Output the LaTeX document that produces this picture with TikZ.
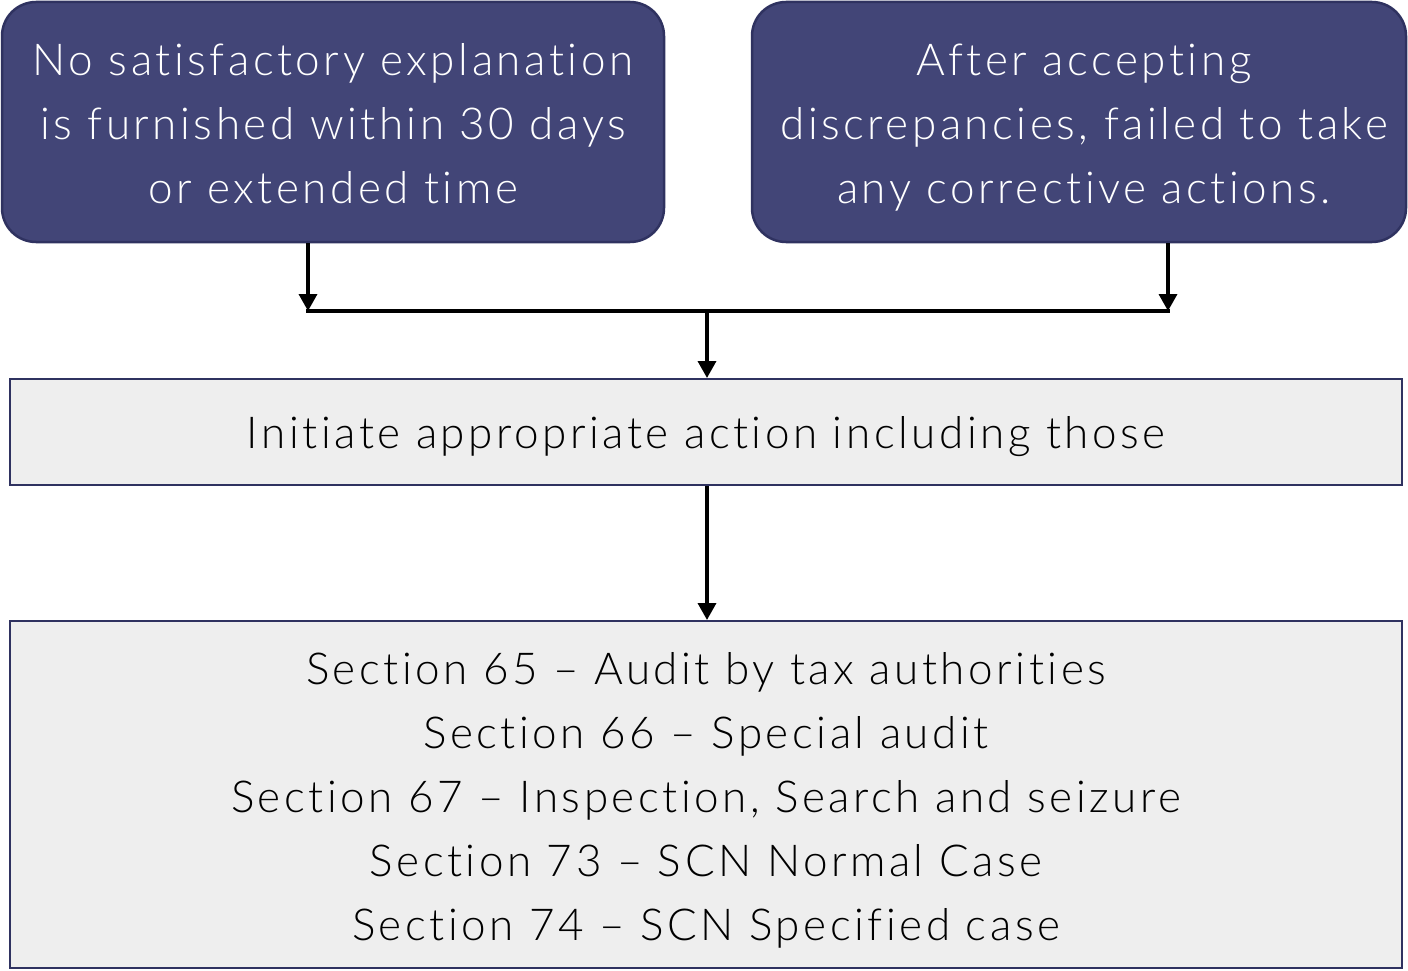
\documentclass[tikz,border=0pt]{standalone}
\usepackage{fontspec}
\setmainfont{Lato}[UprightFont={* Light},LetterSpace=8,Ligatures={NoCommon}]
\usetikzlibrary{arrows.meta}
\definecolor{boxblue}{HTML}{424577}
\definecolor{boxedge}{HTML}{2F3260}
\definecolor{boxgray}{HTML}{EEEEEE}
\begin{document}
\begin{tikzpicture}[x=1pt,y=-1pt,
  topbox/.style={draw=boxedge,line width=2.5pt,fill=boxblue,rounded corners=34pt,text=white},
  graybox/.style={draw=boxedge,line width=2.5pt,fill=boxgray,text=black},
  txt/.style={align=center,font=\fontsize{44}{64}\selectfont,inner sep=0pt},
  conn/.style={line width=3.5pt,black},
  arr/.style={conn,-{Triangle[length=17pt,width=18pt]}}]
\useasboundingbox (0,0) rectangle (1408,971);
\draw[topbox] (2,2) rectangle (664,242);
\draw[topbox] (752,2) rectangle (1406,242);
\draw[graybox] (10,379) rectangle (1402,485);
\draw[graybox] (10,621) rectangle (1402,968);
\node[txt,text=white] (t1) at (333,124) {No satisfactory explanation\\is furnished within 30 days\\or extended time};
\node[txt,text=white] (t2) at (1084,128) {After accepting\\discrepancies, failed to take\\any corrective actions.};
\node[txt] (t3) at (706,437) {Initiate appropriate action including those};
\node[txt] (t4) at (706,800) {Section 65 – Audit by tax authorities\\Section 66 – Special audit\\Section 67 – Inspection, Search and seizure\\Section 73 – SCN Normal Case\\Section 74 – SCN Specified case};
\coordinate (a1) at (308,243);
\coordinate (b1) at (308,311);
\coordinate (a2) at (1168,243);
\coordinate (b2) at (1168,311);
\coordinate (m) at (707,311);
\coordinate (m3) at (707,378);
\coordinate (c3) at (707,486);
\coordinate (c4) at (707,620);
\draw[arr] (a1) -- (b1);
\draw[arr] (a2) -- (b2);
\draw[conn,line cap=rect] (b1) -- (b2);
\draw[arr] (m) -- (m3);
\draw[arr] (c3) -- (c4);
\end{tikzpicture}
\end{document}
